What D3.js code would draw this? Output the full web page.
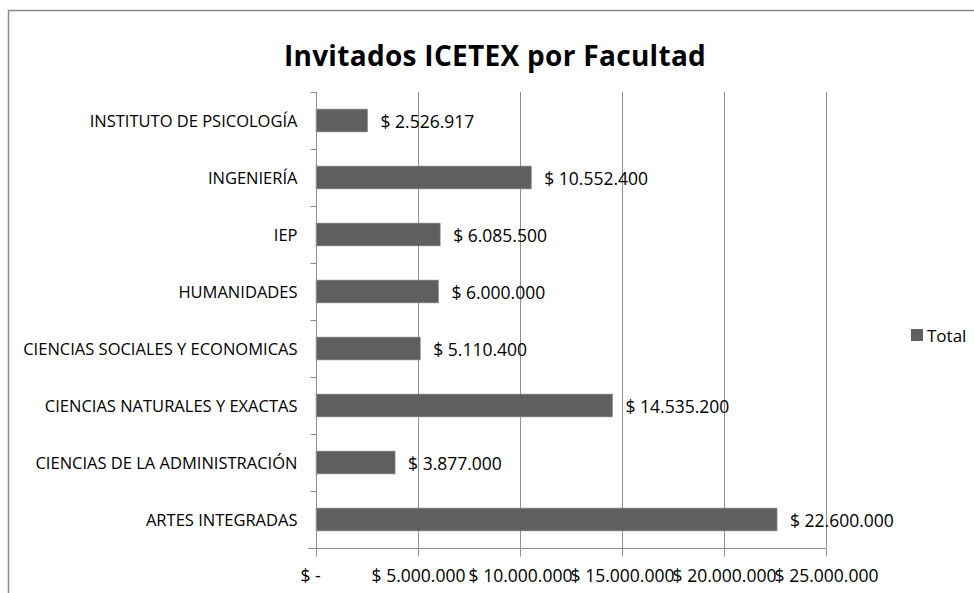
<!DOCTYPE html>
<html>
<head>
<meta charset="utf-8">
<script src="https://cdn.jsdelivr.net/npm/d3@7"></script>
<style>
  body { margin: 0; background: #fff; }
  text { font-family: "Open Sans", sans-serif; fill: #000; }
</style>
</head>
<body>
<div id="wrapper"></div>
<script>
// datos (de arriba hacia abajo)
const categories = ["INSTITUTO  DE PSICOLOGÍA", "INGENIERÍA", "IEP", "HUMANIDADES",
  "CIENCIAS SOCIALES Y ECONOMICAS", "CIENCIAS NATURALES Y EXACTAS",
  "CIENCIAS DE LA ADMINISTRACIÓN", "ARTES INTEGRADAS"];
const totals = [2526917, 10552400, 6085500, 6000000, 5110400, 14535200, 3877000, 22600000];
const xTicks = [0, 5000000, 10000000, 15000000, 20000000, 25000000];
const seriesName = "Total";
const title = "Invitados ICETEX por Facultad";

const W = 974, H = 593;
const plot = { left: 316, right: 826, top: 92, bottom: 548 };

const svg = d3.select("#wrapper").append("svg").attr("width", W).attr("height", H);

// marco del gráfico
svg.append("path").attr("d", "M8.5," + H + "V10.5H" + W)
  .attr("fill", "none").attr("stroke", "#8c8c8c").attr("stroke-width", 1.5);

const fmt = v => v === 0 ? "$ -" : "$ " + d3.format(",")(v).replace(/,/g, ".");

var x = d3.scaleLinear().domain([0, 25000000]).range([plot.left, plot.right]);
var y = d3.scaleBand().domain(categories).range([plot.top, plot.bottom]).paddingInner(0.6).paddingOuter(0.3);
var yb = d3.scaleBand().domain(categories).range([plot.top, plot.bottom]);

// rejilla vertical
svg.append("g").selectAll("line").data(xTicks.slice(1)).enter().append("line")
  .attr("x1", d => x(d) + 0.5).attr("x2", d => x(d) + 0.5)
  .attr("y1", plot.top).attr("y2", plot.bottom)
  .attr("stroke", "#8f8f8f").attr("stroke-width", 1);

// barras
svg.append("g").selectAll("rect").data(totals).enter().append("rect")
  .attr("x", x(0)).attr("y", (d, i) => y(categories[i]))
  .attr("width", d => x(d) - x(0)).attr("height", y.bandwidth())
  .attr("fill", "#5f5f5f").attr("stroke", "#8a8a8a").attr("stroke-width", 0.6);

// etiquetas de valor
svg.append("g").selectAll("text").data(totals).enter().append("text")
  .attr("class", "num")
  .attr("x", d => x(d) + 13).attr("y", (d, i) => y(categories[i]) + y.bandwidth() / 2 + 1)
  .attr("dy", "0.35em").text(d => fmt(d));

// eje y
var yAxisG = svg.append("g").attr("transform", "translate(" + (plot.left + 0.5) + ",0)");
yAxisG.append("line").attr("y1", plot.top).attr("y2", plot.bottom).attr("stroke", "#8f8f8f");
yAxisG.selectAll(".tk").data(d3.range(categories.length + 1)).enter().append("line")
  .attr("x1", -6).attr("x2", 0)
  .attr("y1", i => plot.top + i * yb.step() + 0.5).attr("y2", i => plot.top + i * yb.step() + 0.5)
  .attr("stroke", "#8f8f8f");
yAxisG.selectAll("text").data(categories).enter().append("text")
  .attr("x", -19).attr("y", d => yb(d) + yb.bandwidth() / 2 + 1).attr("dy", "0.35em")
  .attr("text-anchor", "end").style("font-size", "16.5px").text(d => d);

// eje x
var xAxisCall = d3.axisBottom(x).tickValues(xTicks).tickSize(8).tickSizeOuter(0).tickPadding(13).tickFormat(fmt);
var xAxisG = svg.append("g").attr("transform", "translate(0," + (plot.bottom + 0.5) + ")").call(xAxisCall);
xAxisG.select(".domain").attr("d", "M" + (plot.left - 8) + ",0H" + plot.right).attr("stroke", "#8f8f8f");
xAxisG.selectAll(".tick line").attr("stroke", "#8f8f8f");
xAxisG.selectAll(".tick text").attr("class", "num").style("font-family", null)
  .attr("dx", d => d === 0 ? -6 : 0);

// título
svg.append("text").attr("x", 495).attr("y", 66).attr("text-anchor", "middle")
  .style("font-size", "28px").style("font-weight", "bold").style("letter-spacing", "0.3px").text(title);

// leyenda
svg.append("rect").attr("x", 911).attr("y", 329).attr("width", 12).attr("height", 12).attr("fill", "#5f5f5f");
svg.append("text").attr("x", 927).attr("y", 336).attr("dy", "0.35em").style("font-size", "17px").text(seriesName);

svg.selectAll(".num").style("font-size", "17.5px");
</script>
</body>
</html>
